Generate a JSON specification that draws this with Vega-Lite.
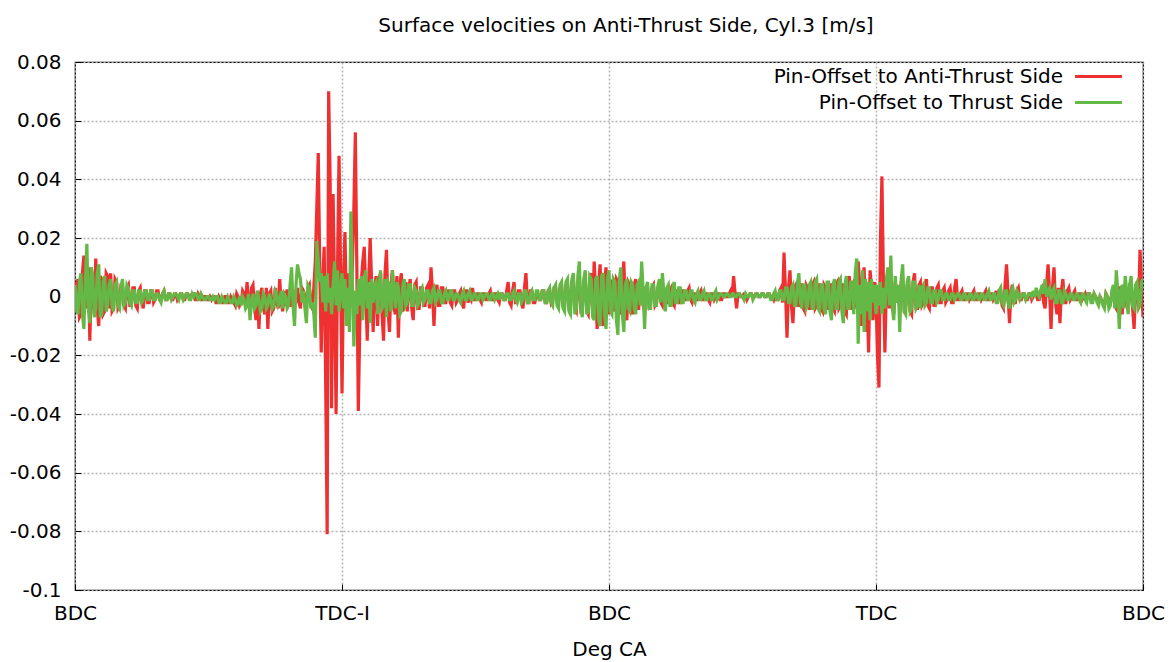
{
  "$schema": "https://vega.github.io/schema/vega-lite/v6.json",
  "width": 1068,
  "height": 528,
  "autosize": {"type": "none"},
  "padding": {"left": 75, "top": 62, "right": 28, "bottom": 72},
  "background": "white",
  "config": {
    "font": "DejaVu Sans",
    "view": {"stroke": "#000000", "strokeWidth": 1.2},
    "axis": {"labelFont": "DejaVu Sans", "titleFont": "DejaVu Sans", "labelFontSize": 20, "titleFontSize": 20, "labelColor": "#000", "titleColor": "#000", "titleFontWeight": "normal", "gridColor": "#b4b4b4", "gridDash": [2, 2], "gridWidth": 1.5, "domain": false, "ticks": true, "tickSize": -6, "tickColor": "#000", "tickWidth": 1}
  },
  "title": {"text": "Surface velocities on Anti-Thrust Side, Cyl.3 [m/s]", "font": "DejaVu Sans", "fontSize": 20, "fontWeight": "normal", "color": "#000", "anchor": "middle", "dx": 17, "offset": 16},
  "data": {"values": [
    {"x":0,"a":-0.005,"t":0.004},{"x":1,"a":0.004,"t":-0.004},{"x":2,"a":0.006,"t":-0.006},{"x":3,"a":-0.007,"t":0.005},{"x":4,"a":-0.006,"t":0.008},{"x":5,"a":0.008,"t":-0.006},{"x":6,"a":0.014,"t":-0.011},{"x":7,"a":-0.004,"t":0.006},{"x":8,"a":0.002,"t":0.018},{"x":9,"a":0.010,"t":-0.004},
    {"x":10,"a":-0.015,"t":-0.009},{"x":11,"a":0.006,"t":0.010},{"x":12,"a":0.004,"t":0.007},{"x":13,"a":-0.006,"t":-0.007},{"x":14,"a":0.013,"t":-0.004},{"x":15,"a":-0.004,"t":0.008},{"x":16,"a":-0.010,"t":0.011},{"x":17,"a":0.007,"t":-0.007},{"x":18,"a":0.006,"t":-0.006},{"x":19,"a":-0.006,"t":0.005},
    {"x":20,"a":-0.005,"t":0.007},{"x":21,"a":0.008,"t":-0.005},{"x":22,"a":0.007,"t":-0.003},{"x":23,"a":-0.004,"t":0.004},{"x":24,"a":0.008,"t":0.006},{"x":25,"a":-0.005,"t":-0.003},{"x":26,"a":-0.004,"t":-0.005},{"x":27,"a":0.006,"t":0.004},{"x":28,"a":0.005,"t":0.005},{"x":29,"a":-0.004,"t":-0.003},
    {"x":30,"a":-0.003,"t":-0.004},{"x":31,"a":0.004,"t":0.003},{"x":32,"a":0.004,"t":0.006},{"x":33,"a":-0.003,"t":-0.003},{"x":34,"a":-0.004,"t":-0.002},{"x":35,"a":0.003,"t":0.004},{"x":36,"a":0.004,"t":0.003},{"x":37,"a":-0.003,"t":-0.002},{"x":38,"a":-0.003,"t":-0.003},{"x":39,"a":0.003,"t":0.002},
    {"x":40,"a":0.003,"t":0.002},{"x":41,"a":-0.003,"t":-0.002},{"x":42,"a":-0.004,"t":-0.002},{"x":43,"a":0.002,"t":0.002},{"x":44,"a":0.003,"t":0.002},{"x":45,"a":-0.002,"t":-0.002},{"x":46,"a":-0.004,"t":-0.001},{"x":47,"a":0.002,"t":0.002},{"x":48,"a":0.002,"t":0.002},{"x":49,"a":-0.002,"t":-0.001},
    {"x":50,"a":-0.002,"t":-0.001},{"x":51,"a":0.002,"t":0.002},{"x":52,"a":0.002,"t":0.002},{"x":53,"a":-0.002,"t":-0.001},{"x":54,"a":-0.001,"t":-0.001},{"x":55,"a":0.002,"t":0.001},{"x":56,"a":0.002,"t":0.001},{"x":57,"a":-0.001,"t":-0.001},{"x":58,"a":-0.001,"t":-0.002},{"x":59,"a":0.001,"t":0.001},
    {"x":60,"a":0.002,"t":0.002},{"x":61,"a":-0.001,"t":-0.001},{"x":62,"a":-0.001,"t":-0.001},{"x":63,"a":0.001,"t":0.001},{"x":64,"a":0.001,"t":0.001},{"x":65,"a":-0.001,"t":-0.001},{"x":66,"a":-0.001,"t":0.000},{"x":67,"a":0.001,"t":0.001},{"x":68,"a":0.001,"t":0.001},{"x":69,"a":-0.001,"t":0.000},
    {"x":70,"a":0.000,"t":-0.001},{"x":71,"a":0.001,"t":0.001},{"x":72,"a":0.001,"t":0.001},{"x":73,"a":-0.001,"t":-0.001},{"x":74,"a":-0.001,"t":0.000},{"x":75,"a":0.001,"t":0.001},{"x":76,"a":0.001,"t":0.001},{"x":77,"a":0.000,"t":-0.001},{"x":78,"a":0.000,"t":-0.001},{"x":79,"a":0.001,"t":0.001},
    {"x":80,"a":0.001,"t":0.000},{"x":81,"a":-0.001,"t":0.001},{"x":82,"a":-0.001,"t":0.001},{"x":83,"a":0.001,"t":-0.001},{"x":84,"a":0.000,"t":-0.001},{"x":85,"a":-0.001,"t":0.001},{"x":86,"a":-0.001,"t":0.000},{"x":87,"a":0.000,"t":-0.001},{"x":88,"a":0.000,"t":-0.001},{"x":89,"a":-0.001,"t":0.000},
    {"x":90,"a":-0.001,"t":0.000},{"x":91,"a":0.000,"t":-0.001},{"x":92,"a":-0.001,"t":-0.001},{"x":93,"a":0.000,"t":0.000},{"x":94,"a":0.000,"t":-0.001},{"x":95,"a":-0.002,"t":0.000},{"x":96,"a":-0.002,"t":0.000},{"x":97,"a":0.000,"t":-0.002},{"x":98,"a":-0.001,"t":-0.002},{"x":99,"a":-0.002,"t":0.000},
    {"x":100,"a":-0.002,"t":-0.001},{"x":101,"a":0.000,"t":-0.002},{"x":102,"a":0.000,"t":-0.002},{"x":103,"a":-0.002,"t":0.000},{"x":104,"a":-0.002,"t":-0.001},{"x":105,"a":0.000,"t":-0.002},{"x":106,"a":-0.001,"t":-0.002},{"x":107,"a":-0.002,"t":0.000},{"x":108,"a":-0.003,"t":-0.001},{"x":109,"a":0.001,"t":-0.003},
    {"x":110,"a":0.000,"t":-0.002},{"x":111,"a":-0.003,"t":0.000},{"x":112,"a":-0.002,"t":-0.003},{"x":113,"a":0.002,"t":0.000},{"x":114,"a":0.001,"t":-0.001},{"x":115,"a":-0.003,"t":-0.004},{"x":116,"a":0.005,"t":-0.003},{"x":117,"a":-0.002,"t":0.001},{"x":118,"a":-0.004,"t":-0.008},{"x":119,"a":0.003,"t":-0.002},
    {"x":120,"a":0.004,"t":0.001},{"x":121,"a":-0.003,"t":-0.004},{"x":122,"a":-0.008,"t":-0.003},{"x":123,"a":0.002,"t":0.002},{"x":124,"a":-0.011,"t":-0.001},{"x":125,"a":0.001,"t":-0.005},{"x":126,"a":0.003,"t":-0.004},{"x":127,"a":-0.004,"t":0.001},{"x":128,"a":-0.006,"t":0.000},{"x":129,"a":0.003,"t":-0.004},
    {"x":130,"a":-0.011,"t":-0.003},{"x":131,"a":0.001,"t":0.001},{"x":132,"a":0.002,"t":-0.001},{"x":133,"a":-0.005,"t":-0.004},{"x":134,"a":-0.004,"t":-0.003},{"x":135,"a":0.003,"t":0.002},{"x":136,"a":-0.002,"t":0.001},{"x":137,"a":-0.004,"t":-0.003},{"x":138,"a":0.006,"t":-0.002},{"x":139,"a":-0.002,"t":0.002},
    {"x":140,"a":-0.005,"t":-0.004},{"x":141,"a":0.002,"t":0.001},{"x":142,"a":-0.003,"t":0.000},{"x":143,"a":0.002,"t":-0.004},{"x":144,"a":0.002,"t":-0.003},{"x":145,"a":-0.003,"t":0.004},{"x":146,"a":-0.003,"t":0.010},{"x":147,"a":0.002,"t":-0.003},{"x":148,"a":0.001,"t":-0.010},{"x":149,"a":-0.002,"t":0.004},
    {"x":150,"a":0.003,"t":0.011},{"x":151,"a":-0.002,"t":0.008},{"x":152,"a":-0.004,"t":0.006},{"x":153,"a":0.003,"t":-0.002},{"x":154,"a":0.002,"t":0.002},{"x":155,"a":-0.002,"t":-0.004},{"x":156,"a":-0.001,"t":-0.009},{"x":157,"a":0.003,"t":0.004},{"x":158,"a":0.004,"t":0.003},{"x":159,"a":-0.003,"t":-0.004},
    {"x":160,"a":-0.004,"t":-0.002},{"x":161,"a":0.003,"t":-0.006},{"x":162,"a":0.012,"t":-0.014},{"x":163,"a":0.030,"t":0.019},{"x":164,"a":0.049,"t":0.012},{"x":165,"a":0.010,"t":0.005},{"x":166,"a":-0.019,"t":0.008},{"x":167,"a":0.005,"t":-0.002},{"x":168,"a":0.017,"t":0.007},{"x":169,"a":-0.030,"t":-0.005},
    {"x":170,"a":-0.081,"t":0.008},{"x":171,"a":0.070,"t":-0.002},{"x":172,"a":0.040,"t":0.003},{"x":173,"a":-0.038,"t":-0.006},{"x":174,"a":0.035,"t":0.004},{"x":175,"a":0.000,"t":0.012},{"x":176,"a":-0.040,"t":-0.003},{"x":177,"a":0.010,"t":0.009},{"x":178,"a":0.048,"t":-0.005},{"x":179,"a":0.010,"t":0.002},
    {"x":180,"a":-0.033,"t":0.008},{"x":181,"a":0.005,"t":-0.004},{"x":182,"a":0.022,"t":0.006},{"x":183,"a":-0.005,"t":-0.010},{"x":184,"a":0.008,"t":0.003},{"x":185,"a":-0.004,"t":-0.012},{"x":186,"a":0.002,"t":0.029},{"x":187,"a":0.010,"t":0.005},{"x":188,"a":0.030,"t":-0.017},{"x":189,"a":0.056,"t":0.002},
    {"x":190,"a":0.010,"t":-0.006},{"x":191,"a":-0.039,"t":0.006},{"x":192,"a":-0.010,"t":-0.003},{"x":193,"a":0.005,"t":0.007},{"x":194,"a":0.012,"t":-0.008},{"x":195,"a":0.017,"t":0.004},{"x":196,"a":0.002,"t":0.009},{"x":197,"a":-0.015,"t":-0.004},{"x":198,"a":0.005,"t":0.005},{"x":199,"a":0.020,"t":-0.009},
    {"x":200,"a":0.004,"t":0.006},{"x":201,"a":-0.012,"t":-0.002},{"x":202,"a":0.003,"t":0.004},{"x":203,"a":0.007,"t":0.005},{"x":204,"a":-0.010,"t":-0.006},{"x":205,"a":0.006,"t":0.003},{"x":206,"a":0.008,"t":0.009},{"x":207,"a":-0.006,"t":-0.004},{"x":208,"a":-0.015,"t":-0.003},{"x":209,"a":0.008,"t":0.006},
    {"x":210,"a":0.016,"t":-0.007},{"x":211,"a":-0.004,"t":0.005},{"x":212,"a":-0.012,"t":0.004},{"x":213,"a":0.004,"t":-0.005},{"x":214,"a":0.009,"t":0.009},{"x":215,"a":-0.004,"t":0.002},{"x":216,"a":-0.006,"t":-0.004},{"x":217,"a":0.007,"t":0.005},{"x":218,"a":-0.014,"t":0.003},{"x":219,"a":0.004,"t":-0.006},
    {"x":220,"a":0.008,"t":-0.005},{"x":221,"a":-0.005,"t":0.004},{"x":222,"a":-0.003,"t":0.006},{"x":223,"a":0.005,"t":-0.003},{"x":224,"a":-0.005,"t":-0.002},{"x":225,"a":0.003,"t":0.004},{"x":226,"a":0.006,"t":0.004},{"x":227,"a":-0.004,"t":-0.003},{"x":228,"a":-0.008,"t":-0.003},{"x":229,"a":0.004,"t":0.003},
    {"x":230,"a":0.005,"t":0.002},{"x":231,"a":-0.004,"t":-0.003},{"x":232,"a":-0.004,"t":-0.002},{"x":233,"a":0.003,"t":0.002},{"x":234,"a":0.003,"t":0.003},{"x":235,"a":-0.003,"t":-0.002},{"x":236,"a":-0.003,"t":-0.001},{"x":237,"a":0.003,"t":0.002},{"x":238,"a":0.004,"t":0.002},{"x":239,"a":-0.004,"t":-0.002},
    {"x":240,"a":0.010,"t":-0.002},{"x":241,"a":0.002,"t":0.002},{"x":242,"a":-0.010,"t":0.003},{"x":243,"a":0.002,"t":-0.002},{"x":244,"a":0.004,"t":-0.001},{"x":245,"a":-0.003,"t":0.002},{"x":246,"a":-0.003,"t":0.002},{"x":247,"a":0.003,"t":-0.002},{"x":248,"a":0.003,"t":-0.002},{"x":249,"a":-0.002,"t":0.001},
    {"x":250,"a":-0.002,"t":0.002},{"x":251,"a":0.002,"t":-0.001},{"x":252,"a":0.002,"t":-0.001},{"x":253,"a":-0.002,"t":0.002},{"x":254,"a":-0.003,"t":0.002},{"x":255,"a":0.002,"t":-0.001},{"x":256,"a":0.002,"t":-0.001},{"x":257,"a":-0.002,"t":0.001},{"x":258,"a":-0.001,"t":0.001},{"x":259,"a":0.001,"t":-0.001},
    {"x":260,"a":0.002,"t":-0.002},{"x":261,"a":-0.002,"t":0.001},{"x":262,"a":-0.004,"t":0.002},{"x":263,"a":0.002,"t":-0.001},{"x":264,"a":0.002,"t":-0.001},{"x":265,"a":-0.002,"t":0.001},{"x":266,"a":0.000,"t":0.002},{"x":267,"a":-0.001,"t":-0.001},{"x":268,"a":0.003,"t":-0.001},{"x":269,"a":-0.001,"t":0.001},
    {"x":270,"a":-0.001,"t":0.001},{"x":271,"a":0.001,"t":-0.001},{"x":272,"a":0.001,"t":-0.001},{"x":273,"a":-0.001,"t":0.001},{"x":274,"a":-0.002,"t":0.001},{"x":275,"a":0.001,"t":-0.001},{"x":276,"a":0.001,"t":0.000},{"x":277,"a":-0.001,"t":0.001},{"x":278,"a":-0.001,"t":0.001},{"x":279,"a":0.001,"t":-0.001},
    {"x":280,"a":0.002,"t":-0.001},{"x":281,"a":-0.001,"t":0.001},{"x":282,"a":-0.001,"t":0.001},{"x":283,"a":0.001,"t":-0.001},{"x":284,"a":0.001,"t":0.000},{"x":285,"a":-0.001,"t":0.001},{"x":286,"a":-0.002,"t":-0.001},{"x":287,"a":0.001,"t":0.001},{"x":288,"a":0.001,"t":0.001},{"x":289,"a":-0.001,"t":-0.001},
    {"x":290,"a":-0.001,"t":-0.001},{"x":291,"a":0.002,"t":0.001},{"x":292,"a":0.005,"t":0.001},{"x":293,"a":-0.002,"t":-0.001},{"x":294,"a":-0.003,"t":-0.001},{"x":295,"a":0.002,"t":0.001},{"x":296,"a":0.005,"t":0.002},{"x":297,"a":-0.002,"t":-0.001},{"x":298,"a":-0.002,"t":-0.002},{"x":299,"a":0.002,"t":0.001},
    {"x":300,"a":0.002,"t":0.001},{"x":301,"a":-0.002,"t":-0.002},{"x":302,"a":-0.004,"t":-0.001},{"x":303,"a":0.003,"t":0.002},{"x":304,"a":0.008,"t":0.002},{"x":305,"a":-0.002,"t":-0.002},{"x":306,"a":-0.002,"t":-0.002},{"x":307,"a":0.002,"t":0.001},{"x":308,"a":0.002,"t":0.002},{"x":309,"a":-0.002,"t":-0.001},
    {"x":310,"a":-0.002,"t":-0.001},{"x":311,"a":0.001,"t":0.002},{"x":312,"a":0.001,"t":0.002},{"x":313,"a":-0.001,"t":-0.001},{"x":314,"a":-0.001,"t":-0.001},{"x":315,"a":0.002,"t":0.002},{"x":316,"a":0.002,"t":0.002},{"x":317,"a":-0.002,"t":-0.002},{"x":318,"a":-0.002,"t":-0.002},{"x":319,"a":0.002,"t":0.002},
    {"x":320,"a":0.002,"t":0.003},{"x":321,"a":-0.002,"t":-0.002},{"x":322,"a":-0.001,"t":-0.003},{"x":323,"a":0.003,"t":0.003},{"x":324,"a":0.003,"t":0.004},{"x":325,"a":-0.002,"t":-0.003},{"x":326,"a":-0.002,"t":-0.004},{"x":327,"a":0.003,"t":0.004},{"x":328,"a":0.004,"t":0.005},{"x":329,"a":-0.003,"t":-0.004},
    {"x":330,"a":-0.003,"t":-0.005},{"x":331,"a":0.004,"t":0.005},{"x":332,"a":0.005,"t":0.006},{"x":333,"a":-0.004,"t":-0.005},{"x":334,"a":-0.004,"t":-0.006},{"x":335,"a":0.005,"t":0.006},{"x":336,"a":0.006,"t":0.008},{"x":337,"a":-0.004,"t":-0.006},{"x":338,"a":-0.005,"t":-0.004},{"x":339,"a":0.005,"t":0.007},
    {"x":340,"a":0.006,"t":0.012},{"x":341,"a":-0.004,"t":-0.004},{"x":342,"a":-0.003,"t":-0.007},{"x":343,"a":0.005,"t":0.006},{"x":344,"a":0.005,"t":0.009},{"x":345,"a":-0.005,"t":-0.006},{"x":346,"a":-0.006,"t":-0.005},{"x":347,"a":0.006,"t":0.007},{"x":348,"a":0.008,"t":0.006},{"x":349,"a":-0.006,"t":-0.007},
    {"x":350,"a":0.012,"t":-0.008},{"x":351,"a":0.002,"t":0.006},{"x":352,"a":-0.011,"t":0.007},{"x":353,"a":0.004,"t":-0.008},{"x":354,"a":0.011,"t":-0.010},{"x":355,"a":-0.004,"t":0.007},{"x":356,"a":-0.010,"t":0.008},{"x":357,"a":0.005,"t":-0.006},{"x":358,"a":0.010,"t":-0.011},{"x":359,"a":-0.004,"t":0.006},
    {"x":360,"a":-0.006,"t":0.009},{"x":361,"a":0.004,"t":-0.005},{"x":362,"a":0.005,"t":-0.006},{"x":363,"a":-0.005,"t":0.006},{"x":364,"a":-0.003,"t":0.005},{"x":365,"a":0.006,"t":-0.008},{"x":366,"a":0.005,"t":-0.013},{"x":367,"a":-0.006,"t":0.006},{"x":368,"a":-0.004,"t":0.010},{"x":369,"a":0.005,"t":-0.006},
    {"x":370,"a":0.012,"t":-0.012},{"x":371,"a":-0.005,"t":0.004},{"x":372,"a":-0.008,"t":0.006},{"x":373,"a":0.005,"t":-0.004},{"x":374,"a":0.004,"t":-0.005},{"x":375,"a":-0.004,"t":0.005},{"x":376,"a":-0.006,"t":0.004},{"x":377,"a":0.004,"t":-0.004},{"x":378,"a":0.006,"t":-0.006},{"x":379,"a":-0.004,"t":0.004},
    {"x":380,"a":-0.004,"t":0.005},{"x":381,"a":0.004,"t":-0.003},{"x":382,"a":0.004,"t":0.012},{"x":383,"a":-0.003,"t":0.002},{"x":384,"a":-0.005,"t":-0.011},{"x":385,"a":0.003,"t":0.003},{"x":386,"a":0.003,"t":0.005},{"x":387,"a":-0.003,"t":-0.004},{"x":388,"a":-0.002,"t":-0.004},{"x":389,"a":0.003,"t":0.004},
    {"x":390,"a":0.004,"t":0.004},{"x":391,"a":-0.003,"t":-0.003},{"x":392,"a":-0.002,"t":-0.003},{"x":393,"a":0.003,"t":0.004},{"x":394,"a":0.003,"t":0.006},{"x":395,"a":-0.002,"t":-0.002},{"x":396,"a":-0.003,"t":0.008},{"x":397,"a":0.002,"t":0.001},{"x":398,"a":0.002,"t":-0.005},{"x":399,"a":-0.002,"t":0.003},
    {"x":400,"a":-0.002,"t":0.004},{"x":401,"a":0.002,"t":-0.003},{"x":402,"a":0.003,"t":-0.003},{"x":403,"a":-0.002,"t":0.003},{"x":404,"a":-0.003,"t":0.005},{"x":405,"a":0.002,"t":-0.002},{"x":406,"a":0.002,"t":-0.002},{"x":407,"a":-0.002,"t":0.003},{"x":408,"a":-0.002,"t":0.003},{"x":409,"a":0.002,"t":-0.002},
    {"x":410,"a":0.002,"t":-0.002},{"x":411,"a":-0.001,"t":0.002},{"x":412,"a":-0.001,"t":0.002},{"x":413,"a":0.002,"t":-0.001},{"x":414,"a":0.003,"t":-0.001},{"x":415,"a":-0.001,"t":0.002},{"x":416,"a":-0.002,"t":0.002},{"x":417,"a":0.001,"t":-0.001},{"x":418,"a":0.001,"t":-0.002},{"x":419,"a":-0.001,"t":0.001},
    {"x":420,"a":-0.001,"t":0.002},{"x":421,"a":0.001,"t":-0.001},{"x":422,"a":0.002,"t":-0.001},{"x":423,"a":-0.001,"t":0.001},{"x":424,"a":-0.001,"t":0.002},{"x":425,"a":0.001,"t":-0.001},{"x":426,"a":0.001,"t":-0.001},{"x":427,"a":-0.001,"t":0.001},{"x":428,"a":-0.002,"t":0.001},{"x":429,"a":0.001,"t":-0.001},
    {"x":430,"a":0.001,"t":-0.001},{"x":431,"a":-0.001,"t":0.001},{"x":432,"a":0.000,"t":0.002},{"x":433,"a":0.001,"t":-0.001},{"x":434,"a":0.001,"t":0.000},{"x":435,"a":-0.001,"t":0.001},{"x":436,"a":-0.001,"t":0.001},{"x":437,"a":0.001,"t":0.000},{"x":438,"a":0.001,"t":0.000},{"x":439,"a":0.000,"t":0.001},
    {"x":440,"a":0.000,"t":0.001},{"x":441,"a":0.001,"t":0.000},{"x":442,"a":0.002,"t":0.000},{"x":443,"a":0.000,"t":0.001},{"x":444,"a":0.007,"t":0.001},{"x":445,"a":0.001,"t":0.000},{"x":446,"a":-0.004,"t":0.000},{"x":447,"a":0.001,"t":0.001},{"x":448,"a":0.001,"t":0.001},{"x":449,"a":0.000,"t":0.000},
    {"x":450,"a":0.000,"t":0.000},{"x":451,"a":0.001,"t":-0.001},{"x":452,"a":0.001,"t":0.001},{"x":453,"a":-0.001,"t":0.000},{"x":454,"a":0.000,"t":0.000},{"x":455,"a":0.001,"t":0.001},{"x":456,"a":0.001,"t":0.001},{"x":457,"a":0.000,"t":-0.001},{"x":458,"a":0.000,"t":0.000},{"x":459,"a":0.001,"t":0.001},
    {"x":460,"a":0.001,"t":0.001},{"x":461,"a":0.000,"t":0.000},{"x":462,"a":0.000,"t":0.000},{"x":463,"a":0.001,"t":0.001},{"x":464,"a":0.001,"t":0.001},{"x":465,"a":0.000,"t":0.000},{"x":466,"a":0.000,"t":0.000},{"x":467,"a":0.001,"t":0.001},{"x":468,"a":0.001,"t":0.001},{"x":469,"a":0.000,"t":-0.001},
    {"x":470,"a":0.000,"t":-0.001},{"x":471,"a":-0.001,"t":0.001},{"x":472,"a":0.001,"t":0.002},{"x":473,"a":-0.001,"t":-0.001},{"x":474,"a":-0.001,"t":-0.001},{"x":475,"a":0.002,"t":0.002},{"x":476,"a":0.003,"t":0.002},{"x":477,"a":-0.002,"t":-0.001},{"x":478,"a":0.015,"t":-0.001},{"x":479,"a":0.002,"t":0.003},
    {"x":480,"a":-0.014,"t":0.003},{"x":481,"a":0.003,"t":-0.002},{"x":482,"a":0.009,"t":-0.002},{"x":483,"a":-0.003,"t":0.003},{"x":484,"a":-0.009,"t":0.004},{"x":485,"a":0.003,"t":-0.003},{"x":486,"a":0.004,"t":-0.003},{"x":487,"a":-0.003,"t":0.004},{"x":488,"a":-0.003,"t":0.008},{"x":489,"a":0.004,"t":-0.002},
    {"x":490,"a":0.004,"t":-0.004},{"x":491,"a":-0.004,"t":0.004},{"x":492,"a":-0.005,"t":0.004},{"x":493,"a":0.004,"t":-0.004},{"x":494,"a":0.003,"t":-0.003},{"x":495,"a":-0.004,"t":0.004},{"x":496,"a":-0.004,"t":0.005},{"x":497,"a":0.004,"t":-0.004},{"x":498,"a":0.005,"t":-0.004},{"x":499,"a":-0.004,"t":0.005},
    {"x":500,"a":-0.003,"t":0.006},{"x":501,"a":0.004,"t":-0.004},{"x":502,"a":0.004,"t":-0.005},{"x":503,"a":-0.004,"t":0.004},{"x":504,"a":-0.005,"t":0.004},{"x":505,"a":0.004,"t":-0.004},{"x":506,"a":0.003,"t":-0.006},{"x":507,"a":-0.004,"t":0.005},{"x":508,"a":-0.004,"t":0.005},{"x":509,"a":0.004,"t":-0.005},
    {"x":510,"a":0.004,"t":-0.008},{"x":511,"a":-0.004,"t":0.004},{"x":512,"a":-0.005,"t":0.006},{"x":513,"a":0.004,"t":-0.004},{"x":514,"a":0.005,"t":-0.004},{"x":515,"a":-0.004,"t":0.005},{"x":516,"a":-0.003,"t":0.006},{"x":517,"a":0.004,"t":-0.005},{"x":518,"a":0.004,"t":-0.009},{"x":519,"a":-0.005,"t":0.004},
    {"x":520,"a":-0.006,"t":0.007},{"x":521,"a":0.005,"t":-0.004},{"x":522,"a":0.007,"t":-0.004},{"x":523,"a":-0.004,"t":0.005},{"x":524,"a":-0.004,"t":0.005},{"x":525,"a":0.005,"t":-0.006},{"x":526,"a":0.006,"t":0.008},{"x":527,"a":-0.004,"t":0.013},{"x":528,"a":0.012,"t":-0.016},{"x":529,"a":0.004,"t":0.004},
    {"x":530,"a":-0.010,"t":-0.006},{"x":531,"a":0.006,"t":0.009},{"x":532,"a":0.010,"t":-0.012},{"x":533,"a":-0.012,"t":0.006},{"x":534,"a":0.002,"t":-0.005},{"x":535,"a":-0.019,"t":0.005},{"x":536,"a":0.009,"t":-0.008},{"x":537,"a":0.003,"t":0.006},{"x":538,"a":-0.008,"t":-0.002},{"x":539,"a":0.005,"t":0.004},
    {"x":540,"a":0.000,"t":-0.006},{"x":541,"a":-0.020,"t":0.004},{"x":542,"a":-0.031,"t":-0.003},{"x":543,"a":0.020,"t":0.005},{"x":544,"a":0.041,"t":-0.006},{"x":545,"a":0.005,"t":0.003},{"x":546,"a":-0.019,"t":-0.004},{"x":547,"a":0.004,"t":0.006},{"x":548,"a":0.008,"t":0.010},{"x":549,"a":-0.004,"t":-0.003},
    {"x":550,"a":0.006,"t":0.014},{"x":551,"a":-0.003,"t":-0.004},{"x":552,"a":-0.006,"t":-0.008},{"x":553,"a":0.005,"t":0.007},{"x":554,"a":-0.002,"t":-0.002},{"x":555,"a":0.004,"t":0.004},{"x":556,"a":-0.005,"t":-0.012},{"x":557,"a":0.005,"t":0.006},{"x":558,"a":0.006,"t":0.011},{"x":559,"a":-0.004,"t":-0.005},
    {"x":560,"a":-0.003,"t":-0.006},{"x":561,"a":0.004,"t":0.005},{"x":562,"a":0.005,"t":0.007},{"x":563,"a":-0.005,"t":-0.005},{"x":564,"a":-0.006,"t":-0.004},{"x":565,"a":0.005,"t":0.005},{"x":566,"a":0.008,"t":0.005},{"x":567,"a":-0.004,"t":-0.004},{"x":568,"a":-0.004,"t":-0.003},{"x":569,"a":0.004,"t":0.004},
    {"x":570,"a":0.005,"t":-0.004},{"x":571,"a":-0.003,"t":0.003},{"x":572,"a":-0.002,"t":0.004},{"x":573,"a":0.004,"t":-0.003},{"x":574,"a":0.006,"t":-0.002},{"x":575,"a":-0.003,"t":0.003},{"x":576,"a":-0.004,"t":0.003},{"x":577,"a":0.003,"t":-0.002},{"x":578,"a":0.003,"t":-0.002},{"x":579,"a":-0.003,"t":0.002},
    {"x":580,"a":-0.003,"t":0.002},{"x":581,"a":0.003,"t":-0.002},{"x":582,"a":0.004,"t":-0.001},{"x":583,"a":-0.002,"t":0.002},{"x":584,"a":-0.002,"t":0.002},{"x":585,"a":0.002,"t":-0.001},{"x":586,"a":0.003,"t":-0.001},{"x":587,"a":-0.002,"t":0.001},{"x":588,"a":-0.001,"t":0.001},{"x":589,"a":0.002,"t":-0.001},
    {"x":590,"a":0.003,"t":-0.001},{"x":591,"a":-0.002,"t":0.001},{"x":592,"a":-0.002,"t":0.001},{"x":593,"a":0.003,"t":-0.001},{"x":594,"a":0.006,"t":0.000},{"x":595,"a":-0.001,"t":0.001},{"x":596,"a":-0.001,"t":0.001},{"x":597,"a":0.001,"t":-0.001},{"x":598,"a":0.002,"t":-0.001},{"x":599,"a":-0.001,"t":0.001},
    {"x":600,"a":-0.001,"t":0.001},{"x":601,"a":0.001,"t":-0.001},{"x":602,"a":0.001,"t":-0.001},{"x":603,"a":-0.001,"t":0.001},{"x":604,"a":0.000,"t":0.001},{"x":605,"a":0.001,"t":-0.001},{"x":606,"a":0.002,"t":-0.001},{"x":607,"a":-0.001,"t":0.001},{"x":608,"a":-0.001,"t":0.001},{"x":609,"a":0.001,"t":-0.001},
    {"x":610,"a":0.001,"t":-0.001},{"x":611,"a":-0.001,"t":0.001},{"x":612,"a":0.000,"t":0.001},{"x":613,"a":0.001,"t":-0.001},{"x":614,"a":0.002,"t":-0.001},{"x":615,"a":-0.001,"t":0.001},{"x":616,"a":-0.001,"t":0.002},{"x":617,"a":0.001,"t":-0.001},{"x":618,"a":0.001,"t":-0.001},{"x":619,"a":-0.001,"t":0.001},
    {"x":620,"a":0.000,"t":0.001},{"x":621,"a":0.002,"t":-0.002},{"x":622,"a":-0.002,"t":-0.002},{"x":623,"a":0.002,"t":0.002},{"x":624,"a":0.002,"t":0.003},{"x":625,"a":-0.003,"t":-0.002},{"x":626,"a":-0.004,"t":-0.003},{"x":627,"a":0.004,"t":0.002},{"x":628,"a":0.011,"t":0.002},{"x":629,"a":0.001,"t":-0.002},
    {"x":630,"a":-0.009,"t":-0.004},{"x":631,"a":0.002,"t":0.002},{"x":632,"a":0.004,"t":0.003},{"x":633,"a":-0.002,"t":-0.002},{"x":634,"a":-0.002,"t":-0.001},{"x":635,"a":0.002,"t":0.002},{"x":636,"a":0.003,"t":0.001},{"x":637,"a":-0.001,"t":-0.001},{"x":638,"a":-0.001,"t":0.000},{"x":639,"a":0.001,"t":0.001},
    {"x":640,"a":0.001,"t":0.001},{"x":641,"a":-0.001,"t":-0.001},{"x":642,"a":-0.001,"t":0.000},{"x":643,"a":0.001,"t":0.001},{"x":644,"a":0.001,"t":0.001},{"x":645,"a":-0.001,"t":0.000},{"x":646,"a":0.000,"t":0.002},{"x":647,"a":0.001,"t":0.000},{"x":648,"a":0.001,"t":0.003},{"x":649,"a":-0.001,"t":0.001},
    {"x":650,"a":-0.001,"t":0.000},{"x":651,"a":0.002,"t":0.002},{"x":652,"a":0.003,"t":0.004},{"x":653,"a":-0.002,"t":0.001},{"x":654,"a":-0.004,"t":0.006},{"x":655,"a":0.004,"t":0.000},{"x":656,"a":0.011,"t":0.002},{"x":657,"a":0.002,"t":0.003},{"x":658,"a":-0.011,"t":-0.001},{"x":659,"a":0.003,"t":0.002},
    {"x":660,"a":0.010,"t":0.003},{"x":661,"a":-0.002,"t":-0.002},{"x":662,"a":-0.006,"t":-0.002},{"x":663,"a":0.003,"t":0.002},{"x":664,"a":-0.009,"t":0.002},{"x":665,"a":0.002,"t":-0.002},{"x":666,"a":0.006,"t":-0.002},{"x":667,"a":-0.002,"t":0.002},{"x":668,"a":-0.002,"t":0.001},{"x":669,"a":0.002,"t":-0.001},
    {"x":670,"a":0.003,"t":-0.001},{"x":671,"a":-0.001,"t":0.001},{"x":672,"a":0.000,"t":0.001},{"x":673,"a":0.001,"t":-0.001},{"x":674,"a":0.002,"t":-0.001},{"x":675,"a":-0.001,"t":0.001},{"x":676,"a":-0.001,"t":0.001},{"x":677,"a":0.001,"t":-0.001},{"x":678,"a":0.001,"t":-0.002},{"x":679,"a":-0.001,"t":0.001},
    {"x":680,"a":0.000,"t":0.001},{"x":681,"a":0.001,"t":-0.001},{"x":682,"a":-0.001,"t":-0.002},{"x":683,"a":0.001,"t":0.001},{"x":684,"a":0.001,"t":0.001},{"x":685,"a":-0.001,"t":-0.002},{"x":686,"a":-0.001,"t":-0.002},{"x":687,"a":0.001,"t":0.001},{"x":688,"a":0.000,"t":0.000},{"x":689,"a":-0.001,"t":-0.002},
    {"x":690,"a":-0.002,"t":-0.003},{"x":691,"a":0.000,"t":0.000},{"x":692,"a":-0.001,"t":-0.001},{"x":693,"a":-0.002,"t":-0.003},{"x":694,"a":-0.003,"t":-0.004},{"x":695,"a":0.001,"t":0.001},{"x":696,"a":0.000,"t":0.000},{"x":697,"a":-0.002,"t":-0.004},{"x":698,"a":-0.002,"t":-0.003},{"x":699,"a":0.001,"t":0.002},
    {"x":700,"a":0.002,"t":0.004},{"x":701,"a":-0.003,"t":-0.004},{"x":702,"a":-0.004,"t":0.009},{"x":703,"a":0.003,"t":0.002},{"x":704,"a":0.003,"t":-0.011},{"x":705,"a":-0.004,"t":0.002},{"x":706,"a":-0.006,"t":0.004},{"x":707,"a":0.004,"t":-0.004},{"x":708,"a":0.002,"t":0.007},{"x":709,"a":-0.003,"t":0.002},
    {"x":710,"a":-0.005,"t":-0.006},{"x":711,"a":0.004,"t":0.004},{"x":712,"a":0.004,"t":0.007},{"x":713,"a":-0.004,"t":-0.003},{"x":714,"a":-0.011,"t":-0.004},{"x":715,"a":0.002,"t":0.004},{"x":716,"a":0.005,"t":0.005},{"x":717,"a":-0.003,"t":-0.004},{"x":718,"a":0.016,"t":-0.003},{"x":719,"a":0.004,"t":0.005},
    {"x":720,"a":-0.007,"t":0.006}
  ]},
  "transform": [{"fold": ["a", "t"], "as": ["s", "v"]}],
  "mark": {"type": "line", "strokeWidth": 3.2, "clip": true},
  "encoding": {
    "x": {"field": "x", "type": "quantitative", "scale": {"domain": [0, 720], "nice": false, "zero": false},
      "axis": {"values": [0, 180, 360, 540, 720], "labelExpr": "datum.value == 180 ? 'TDC-I' : datum.value == 540 ? 'TDC' : 'BDC'", "labelFlush": false, "labelOverlap": false, "labelPadding": 19, "title": "Deg CA", "titlePadding": 16}},
    "y": {"field": "v", "type": "quantitative", "scale": {"domain": [-0.1, 0.08], "nice": false, "zero": false},
      "axis": {"values": [-0.1, -0.08, -0.06, -0.04, -0.02, 0, 0.02, 0.04, 0.06, 0.08], "labelExpr": "datum.value == 0 ? '0' : replace(format(datum.value, '.2~f'), '\u2212', '-')", "labelPadding": 20, "title": null, "labelFlush": false}},
    "color": {"field": "s", "type": "nominal", "scale": {"domain": ["a", "t"], "range": ["#ee3030", "#64b846"]},
      "legend": {"title": null, "orient": "none", "legendX": 1010, "legendY": 1, "padding": 0, "fillColor": "white", "symbolType": "M-2,0H2", "symbolSize": 550, "symbolStrokeWidth": 3, "symbolFillColor": "transparent", "labelFont": "DejaVu Sans", "labelFontSize": 20, "labelColor": "#000", "labelAlign": "right", "labelOffset": -49, "rowPadding": 2,
        "labelExpr": "datum.value == 'a' ? 'Pin-Offset to Anti-Thrust Side' : 'Pin-Offset to Thrust Side'", "labelLimit": 400}}
  }
}
